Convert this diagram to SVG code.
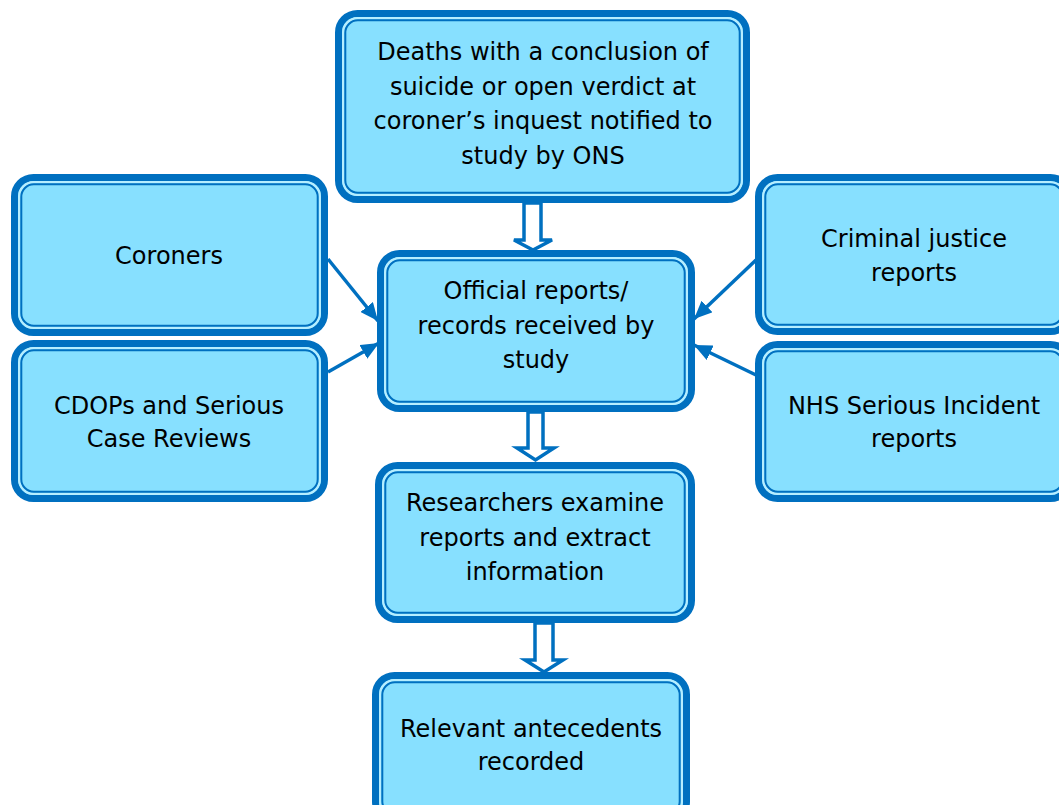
<svg xmlns="http://www.w3.org/2000/svg" width="1059" height="805" viewBox="0 0 1059 805">
<style>
.o{fill:#87e0ff;stroke:#0070c0;stroke-width:7}
.l{fill:none;stroke:#b6eeff;stroke-width:2.3}
.i{fill:none;stroke:#0070c0;stroke-width:2}
.t{font-family:"DejaVu Sans",Verdana,sans-serif;font-size:24px;fill:#000;text-anchor:middle}
.h{fill:#fff;stroke:#0070c0;stroke-width:3.5;stroke-linejoin:miter}
.a{stroke:#0070c0;stroke-width:3.5;fill:none}
</style>
<defs>
<marker id="ah" markerUnits="userSpaceOnUse" markerWidth="20" markerHeight="16" refX="18" refY="8" orient="auto">
<path d="M0,0 L18,8 L0,16 Z" fill="#0070c0"/>
</marker>
</defs>
<rect width="1059" height="805" fill="#fff"/>
<g id="connectors">
<polygon class="h" points="524,203 541,203 541,240 552,240 533,250 514,240 524,240"/>
<polygon class="h" points="528,412 543,412 543,448 554,448 535.5,460 517,448 528,448"/>
<polygon class="h" points="535,623 553,623 553,660 563,660 544,672 525,660 535,660"/>
<line class="a" x1="328" y1="259" x2="378" y2="321" marker-end="url(#ah)"/>
<line class="a" x1="328" y1="372" x2="379" y2="343" marker-end="url(#ah)"/>
<line class="a" x1="756" y1="260" x2="694" y2="319" marker-end="url(#ah)"/>
<line class="a" x1="756" y1="375" x2="694" y2="345" marker-end="url(#ah)"/>
</g>
<g id="n-top">
<rect class="o" x="338.5" y="13.5" width="408" height="186" rx="19"/>
<rect class="l" x="343.15" y="18.15" width="398.7" height="176.7" rx="14.5"/>
<rect class="i" x="345.3" y="20.3" width="394.4" height="172.4" rx="12.5"/>
<text class="t" x="543" y="60">Deaths with a conclusion of</text>
<text class="t" x="543" y="95">suicide or open verdict at</text>
<text class="t" x="543" y="129">coroner’s inquest notified to</text>
<text class="t" x="543" y="164">study by ONS</text>
</g>
<g id="n-coroners">
<rect class="o" x="14.5" y="177.5" width="310" height="155" rx="19"/>
<rect class="l" x="19.15" y="182.15" width="300.7" height="145.7" rx="14.5"/>
<rect class="i" x="21.3" y="184.3" width="296.4" height="141.4" rx="12.5"/>
<text class="t" x="169" y="264">Coroners</text>
</g>
<g id="n-cdops">
<rect class="o" x="14.5" y="343.5" width="310" height="155" rx="19"/>
<rect class="l" x="19.15" y="348.15" width="300.7" height="145.7" rx="14.5"/>
<rect class="i" x="21.3" y="350.3" width="296.4" height="141.4" rx="12.5"/>
<text class="t" x="169" y="414">CDOPs and Serious</text>
<text class="t" x="169" y="447">Case Reviews</text>
</g>
<g id="n-official">
<rect class="o" x="380.5" y="253.5" width="311" height="155" rx="19"/>
<rect class="l" x="385.15" y="258.15" width="301.7" height="145.7" rx="14.5"/>
<rect class="i" x="387.3" y="260.3" width="297.4" height="141.4" rx="12.5"/>
<text class="t" x="536" y="299">Official reports/</text>
<text class="t" x="536" y="334">records received by</text>
<text class="t" x="536" y="368">study</text>
</g>
<g id="n-criminal">
<rect class="o" x="758.5" y="177.5" width="311" height="154" rx="19"/>
<rect class="l" x="763.15" y="182.15" width="301.7" height="144.7" rx="14.5"/>
<rect class="i" x="765.3" y="184.3" width="297.4" height="140.4" rx="12.5"/>
<text class="t" x="914" y="247">Criminal justice</text>
<text class="t" x="914" y="281">reports</text>
</g>
<g id="n-nhs">
<rect class="o" x="758.5" y="344.5" width="311" height="154" rx="19"/>
<rect class="l" x="763.15" y="349.15" width="301.7" height="144.7" rx="14.5"/>
<rect class="i" x="765.3" y="351.3" width="297.4" height="140.4" rx="12.5"/>
<text class="t" x="914" y="414">NHS Serious Incident</text>
<text class="t" x="914" y="447">reports</text>
</g>
<g id="n-researchers">
<rect class="o" x="378.5" y="465.5" width="313" height="154" rx="19"/>
<rect class="l" x="383.15" y="470.15" width="303.7" height="144.7" rx="14.5"/>
<rect class="i" x="385.3" y="472.3" width="299.4" height="140.4" rx="12.5"/>
<text class="t" x="535" y="511">Researchers examine</text>
<text class="t" x="535" y="546">reports and extract</text>
<text class="t" x="535" y="580">information</text>
</g>
<g id="n-relevant">
<rect class="o" x="375.5" y="675.5" width="311" height="145" rx="19"/>
<rect class="l" x="380.15" y="680.15" width="301.7" height="135.7" rx="14.5"/>
<rect class="i" x="382.3" y="682.3" width="297.4" height="131.4" rx="12.5"/>
<text class="t" x="531" y="737">Relevant antecedents</text>
<text class="t" x="531" y="770">recorded</text>
</g>
</svg>
